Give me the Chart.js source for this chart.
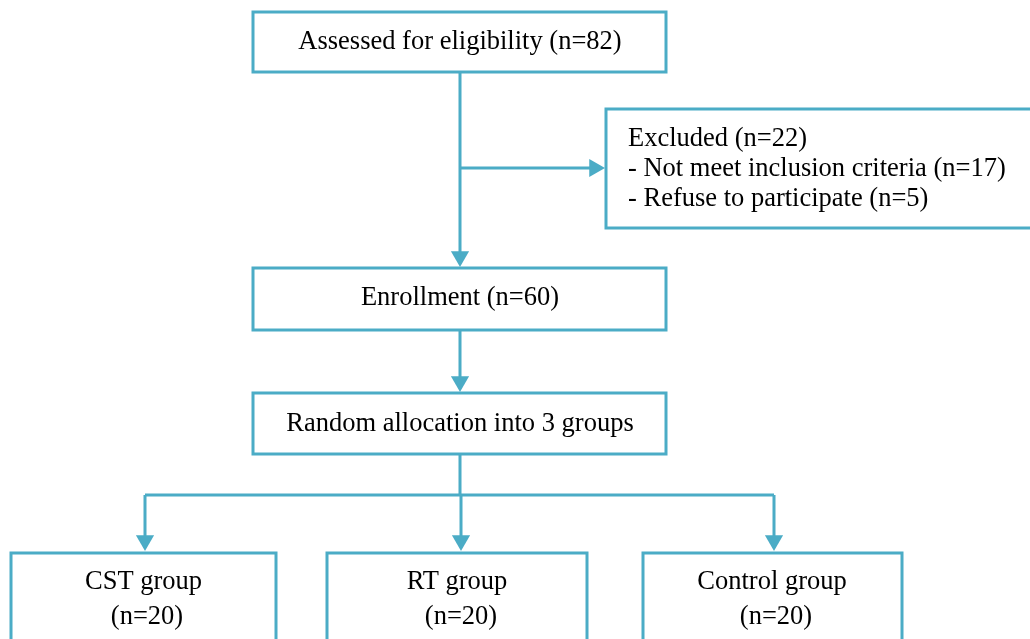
<!DOCTYPE html>
<html><head><meta charset="utf-8">
<script src="https://cdn.jsdelivr.net/npm/chart.js@4.4.0/dist/chart.umd.min.js"></script>
<style>html,body{margin:0;padding:0;background:#fff;overflow:hidden}canvas{display:block}</style>
</head><body><canvas id="c" width="1030" height="639"></canvas>
<script>
// ---- data ----
const stepNames = ['Assessed for eligibility', 'Enrollment', 'Random allocation into 3 groups'];
const stepCounts = [82, 60, null];
const excludedTitle = 'Excluded';
const excludedCount = 22;
const excludedReasons = ['Not meet inclusion criteria', 'Refuse to participate'];
const excludedReasonCounts = [17, 5];
const groupNames = ['CST group', 'RT group', 'Control group'];
const groupCounts = [20, 20, 20];

// ---- layout (in scale units; scale spans the canvas) ----
const COLOR = '#4BACC6';
const FONT = '26.5px "Liberation Serif", "Times New Roman", serif';
const stepBoxes = [[253, 12, 666, 72], [253, 268, 666, 330], [253, 393, 666, 454]];
const stepTextY = [42, 298, 424];
const stepTextX = 460;
const exclBox = [606, 109, 1040, 228];
const exclTextX = 628;
const exclTextY = [139, 169, 199];
const groupBoxes = [[11, 553, 276, 660], [327, 553, 587, 660], [643, 553, 902, 660]];
const groupTitleX = [143.5, 457, 772];
const groupCountX = [147, 461, 776];
const groupTitleY = 582, groupCountY = 617;
const trunkX = 460, branchY = 168, splitY = 495;
const dropX = [145, 461, 774];
const AR = 10.5; // arrow head radius

function label(name, n) { return n == null ? name : name + ' (n=' + n + ')'; }

const connectors = [
  { pts: [[trunkX, stepBoxes[0][3]], [trunkX, stepBoxes[1][1] - 1 - AR]], rot: 180, arrow: true },
  { pts: [[trunkX, branchY], [exclBox[0] - 1 - AR, branchY]], rot: 90, arrow: true },
  { pts: [[trunkX, stepBoxes[1][3]], [trunkX, stepBoxes[2][1] - 1 - AR]], rot: 180, arrow: true },
  { pts: [[trunkX, stepBoxes[2][3]], [trunkX, splitY]], rot: 0, arrow: false },
  { pts: [[dropX[0], splitY], [dropX[2], splitY]], rot: 0, arrow: false },
  ...dropX.map((x, i) => ({ pts: [[x, splitY], [x, groupBoxes[i][1] - 2 - AR]], rot: 180, arrow: true }))
];

const datasets = connectors.map(c => ({
  data: c.pts.map(p => ({ x: p[0], y: p[1] })),
  showLine: true,
  borderColor: COLOR,
  borderWidth: 3,
  borderJoinStyle: 'miter',
  pointStyle: 'triangle',
  rotation: c.rot,
  pointBackgroundColor: COLOR,
  pointBorderColor: COLOR,
  pointBorderWidth: 0,
  pointRadius: (ctx) => (c.arrow && ctx.dataIndex === ctx.dataset.data.length - 1) ? AR : 0,
  pointHoverRadius: 0
}));

const boxPlugin = {
  id: 'boxes',
  afterDatasetsDraw(chart) {
    const { ctx, scales: { x, y } } = chart;
    const rect = (b) => {
      const x0 = x.getPixelForValue(b[0]), x1 = x.getPixelForValue(b[2]);
      const y0 = y.getPixelForValue(b[1]), y1 = y.getPixelForValue(b[3]);
      ctx.fillStyle = '#fff';
      ctx.fillRect(x0, y0, x1 - x0, y1 - y0);
      ctx.strokeStyle = COLOR; ctx.lineWidth = 3;
      ctx.strokeRect(x0, y0, x1 - x0, y1 - y0);
    };
    const text = (s, tx, ty, align) => {
      ctx.textAlign = align; ctx.textBaseline = 'middle';
      ctx.fillStyle = '#000'; ctx.font = FONT;
      ctx.fillText(s, x.getPixelForValue(tx), y.getPixelForValue(ty));
    };
    ctx.save();
    stepBoxes.forEach((b, i) => { rect(b); text(label(stepNames[i], stepCounts[i]), stepTextX, stepTextY[i], 'center'); });
    rect(exclBox);
    text(label(excludedTitle, excludedCount), exclTextX, exclTextY[0], 'left');
    excludedReasons.forEach((r, i) => text('- ' + label(r, excludedReasonCounts[i]), exclTextX, exclTextY[i + 1], 'left'));
    groupBoxes.forEach((b, i) => {
      rect(b);
      text(groupNames[i], groupTitleX[i], groupTitleY, 'center');
      text('(n=' + groupCounts[i] + ')', groupCountX[i], groupCountY, 'center');
    });
    ctx.restore();
  }
};

new Chart(document.getElementById('c'), {
  type: 'scatter',
  data: { datasets },
  options: {
    responsive: false,
    animation: false,
    events: [],
    layout: { padding: 0, autoPadding: false },
    scales: {
      x: { type: 'linear', min: 0, max: 1030, display: false },
      y: { type: 'linear', min: 0, max: 639, reverse: true, display: false }
    },
    plugins: { legend: { display: false }, tooltip: { enabled: false } }
  },
  plugins: [boxPlugin]
});
</script>
</body></html>
